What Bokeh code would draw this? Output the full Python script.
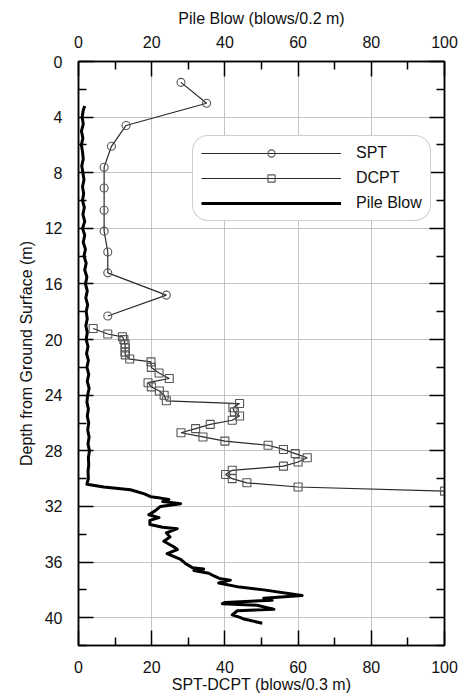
from bokeh.plotting import figure
from bokeh.models import (Range1d, LinearAxis, FixedTicker, Legend, LegendItem,
                          CustomJSTickFormatter)
from bokeh.embed import file_html
from bokeh.resources import INLINE

# ---------------- data ----------------
spt_depth = [1.5, 3.0, 4.6, 6.1, 7.6, 9.1, 10.7, 12.2, 13.7, 15.2, 16.8, 18.3]
spt_blows = [28, 35, 13, 9, 7, 7, 7, 7, 8, 8, 24, 8]

dcpt_depth = [19.2, 19.6, 19.8, 20.0, 20.3, 20.6, 20.9, 21.1, 21.4, 21.6,
              22.0, 22.4, 22.8, 23.1, 23.4, 23.7, 24.0, 24.4, 24.6, 24.9,
              25.2, 25.5, 25.8, 26.1, 26.4, 26.7, 27.0, 27.3, 27.6, 27.9,
              28.2, 28.5, 28.8, 29.1, 29.4, 29.7, 30.0, 30.3, 30.6, 30.9]
dcpt_blows = [4, 8, 12, 12.4, 12.7, 12.8, 12.7, 12.8, 14, 19.8,
              19.9, 22, 24.8, 19, 19.9, 22.1, 23.4, 24, 44, 42.2,
              42.6, 44, 42, 36, 32, 28, 34, 40, 51.8, 56,
              59.2, 62.5, 60, 56, 42, 40.2, 42, 46, 60, 100]

pile_depth = [3.2, 3.5, 4.0, 4.5, 5.0, 5.5, 6.0, 6.5, 7.0, 7.5, 8.0, 8.5, 9.0, 9.5,
              10.0, 10.5, 11.0, 11.5, 12.0, 12.5, 13.0, 13.5, 14.0, 14.5, 15.0, 15.5,
              16.0, 16.5, 17.0, 17.5, 18.0, 18.5, 19.0, 19.5, 20.0, 20.5, 21.0, 21.5,
              22.0, 22.5, 23.0, 23.5, 24.0, 24.5, 25.0, 25.5, 26.0, 26.5, 27.0, 27.5,
              28.0, 28.5, 29.0, 29.5, 30.0, 30.4,
              30.6, 30.8, 31.1, 31.3, 31.4, 31.5, 31.65, 31.8, 32.0, 32.3, 32.6, 32.8,
              33.0, 33.3, 33.5, 33.6, 33.9, 34.2, 34.5, 34.9, 35.1, 35.4, 35.8, 36.1,
              36.4, 36.5, 36.6, 36.8, 37.0, 37.2, 37.3, 37.5, 37.8, 38.0, 38.4, 38.6,
              38.75, 38.9, 39.0, 39.1, 39.4, 39.5, 39.8, 40.0, 40.1, 40.4]
pile_blows = [1.7, 1.3, 1.0, 1.3, 0.8, 1.2, 0.8, 1.1, 1.3, 0.9, 1.2, 1.5, 1.1, 1.4,
              1.1, 1.6, 1.2, 1.7, 1.1, 1.7, 1.3, 1.9, 1.5, 2.1, 1.7, 2.3,
              1.9, 2.4, 2.0, 2.5, 2.1, 2.4, 2.0, 2.4, 2.1, 2.6, 2.2, 2.7,
              2.3, 2.8, 2.4, 2.9, 2.5, 2.3, 2.7, 2.4, 2.8, 2.5, 2.9, 2.6,
              3.0, 2.7, 2.8, 2.6, 2.7, 2.3,
              6.9, 14.2, 18, 19.7, 22.4, 24.7, 23, 27.9, 22.4, 21, 19.2, 22,
              19.5, 19.5, 23, 27, 24, 25, 23.3, 26, 27, 24.2, 27.9, 29.2,
              31.1, 34.2, 31.5, 35.6, 37, 38.8, 41.5, 38.3, 44, 50.6, 61.1, 50.6,
              52.9, 40, 39.3, 48.8, 53.4, 43.4, 42.0, 44.3, 45.2, 50.2]

x_ticks = [0, 20, 40, 60, 80, 100]
x_minor = [10, 30, 50, 70, 90]
y_ticks = [0, 4, 8, 12, 16, 20, 24, 28, 32, 36, 40]
y_minor = [2, 6, 10, 14, 18, 22, 26, 30, 34, 38, 42]

FONT = "Liberation Sans"
FS = "16px"

p = figure(width=461, height=696, output_backend="svg", toolbar_location=None,
           x_range=Range1d(0, 100), y_range=Range1d(42, 0),
           x_axis_location=None, y_axis_location=None,
           min_border_left=78, min_border_right=17, min_border_top=61, min_border_bottom=51)
p.outline_line_color = "black"
p.outline_line_width = 1.5
p.background_fill_color = "white"
p.border_fill_color = "white"

xt = FixedTicker(ticks=x_ticks, minor_ticks=x_minor)
yt = FixedTicker(ticks=y_ticks, minor_ticks=y_minor)


def style(ax):
    ax.axis_line_color = "black"
    ax.axis_line_width = 1.5
    ax.major_tick_in = 15
    ax.major_tick_out = 0
    ax.minor_tick_in = 8
    ax.minor_tick_out = 0
    ax.major_tick_line_color = "black"
    ax.major_tick_line_width = 1.5
    ax.minor_tick_line_color = "black"
    ax.minor_tick_line_width = 1.5
    ax.major_label_text_font = FONT
    ax.major_label_text_font_size = FS
    ax.major_label_text_color = "#111111"
    ax.axis_label_text_font = FONT
    ax.axis_label_text_font_size = FS
    ax.axis_label_text_font_style = "normal"
    ax.axis_label_text_color = "#111111"


bottom = LinearAxis(ticker=xt, axis_label="SPT-DCPT (blows/0.3 m)")
style(bottom)
bottom.major_label_standoff = 15
bottom.axis_label_standoff = 0
p.add_layout(bottom, "below")

top = LinearAxis(ticker=xt, axis_label="Pile Blow (blows/0.2 m)")
style(top)
top.major_label_standoff = 14
top.axis_label_standoff = 6
p.add_layout(top, "above")

left = LinearAxis(ticker=yt, axis_label="Depth from Ground Surface (m)")
style(left)
left.major_label_standoff = 16
left.axis_label_standoff = 7
p.add_layout(left, "left")

right = LinearAxis(ticker=yt, formatter=CustomJSTickFormatter(code="return ''"))
style(right)
right.major_label_standoff = 0
p.add_layout(right, "right")

p.xgrid.ticker = FixedTicker(ticks=x_ticks)
p.ygrid.ticker = FixedTicker(ticks=y_ticks)
for g in (p.xgrid, p.ygrid):
    g.grid_line_color = "#c4c4c4"
    g.grid_line_width = 1

# ---------------- series ----------------
l_spt = p.line(spt_blows, spt_depth, line_color="#2a2a2a", line_width=1.2)
s_spt = p.scatter(spt_blows, spt_depth, marker="circle", size=8,
                  line_color="#555555", line_width=1.1, fill_color=None)

l_dcpt = p.line(dcpt_blows, dcpt_depth, line_color="#2a2a2a", line_width=1.2)
s_dcpt = p.scatter(dcpt_blows, dcpt_depth, marker="square", size=8,
                   line_color="#555555", line_width=1.1, fill_color=None)

l_pile = p.line(pile_blows, pile_depth, line_color="black", line_width=3,
                line_join="round")

legend = Legend(items=[
    LegendItem(label="SPT", renderers=[l_spt, s_spt]),
    LegendItem(label="DCPT", renderers=[l_dcpt, s_dcpt]),
    LegendItem(label="Pile Blow", renderers=[l_pile]),
], location=(114, 424))
legend.glyph_width = 140
legend.glyph_height = 18
legend.label_height = 18
legend.label_standoff = 15
legend.spacing = 7
legend.padding = 8
legend.margin = 0
legend.label_text_font = FONT
legend.label_text_font_size = FS
legend.label_text_color = "#111111"
legend.border_line_color = "#a0a0a0"
legend.border_line_width = 1
legend.background_fill_color = "white"
legend.background_fill_alpha = 1
if "border_radius" in Legend.properties():
    legend.border_radius = 16
p.add_layout(legend, "center")

open("out.html", "w").write(file_html(p, INLINE))
